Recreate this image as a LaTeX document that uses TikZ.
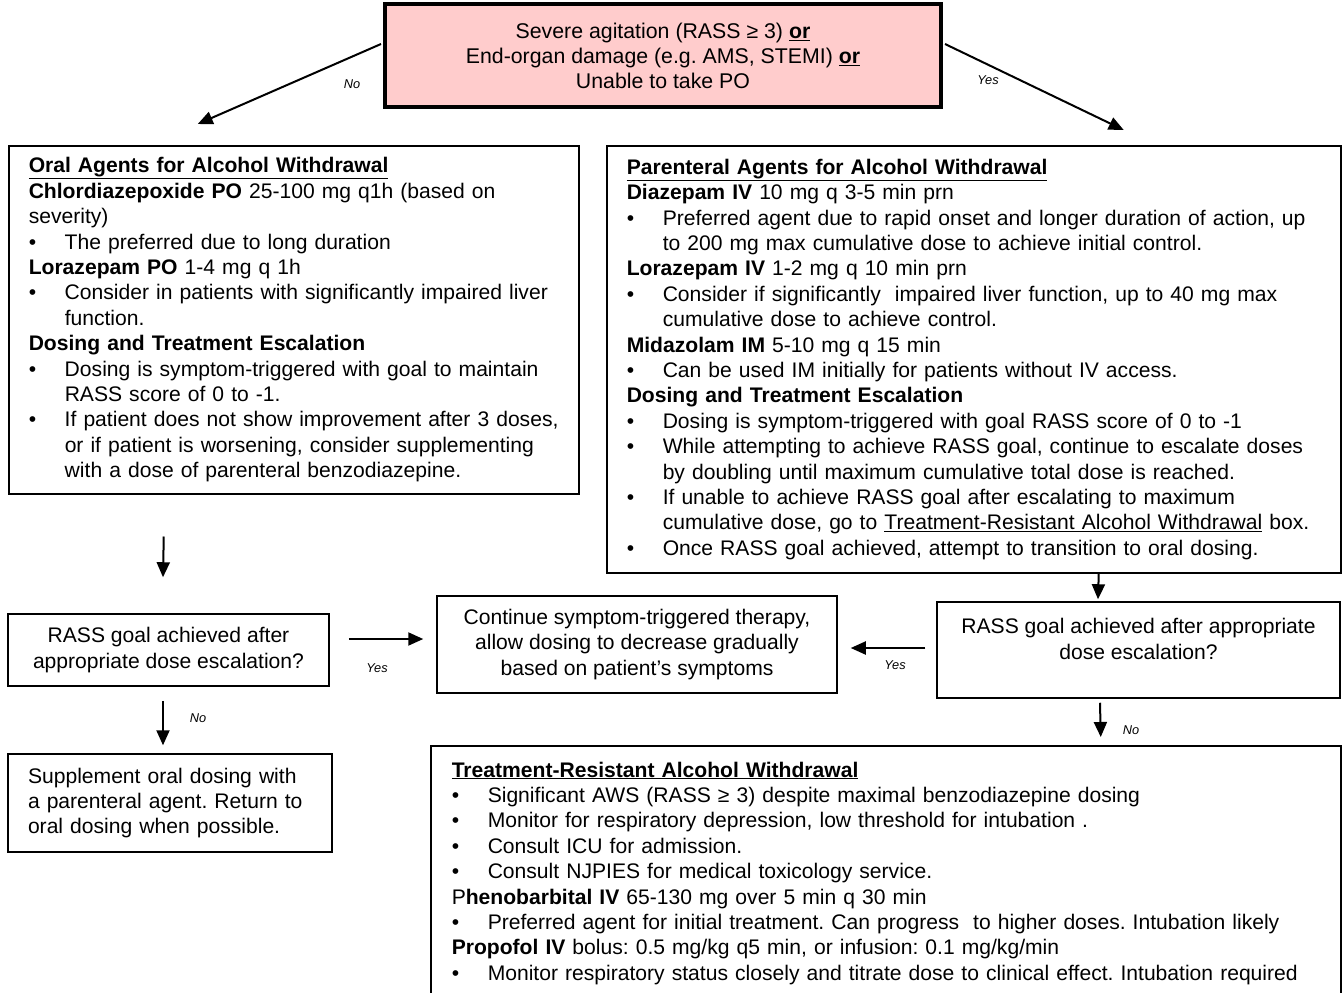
\documentclass[tikz,border=0pt]{standalone}
\usepackage{fontspec}
\setmainfont{Liberation Sans}
\usetikzlibrary{arrows.meta}

\definecolor{alarmpink}{HTML}{FFCCCC}
\newcommand{\blt}[1]{\mbox{\makebox[36pt][l]{\textbullet}#1}}
\newcommand{\bcont}[1]{\mbox{\hspace*{36pt}#1}}
\frenchspacing

\begin{document}
\begin{tikzpicture}[x=1pt,y=-1pt,
    panel/.style={draw=black, line width=1.5pt, align=left, anchor=north west,
        inner xsep=20pt, font=\fontsize{21.1pt}{25.4pt}\selectfont},
    askbox/.style={draw=black, line width=1.5pt, align=center,
        font=\fontsize{21.1pt}{25.4pt}\selectfont},
    arr/.style={line width=2pt, -{Triangle[length=15pt,width=13pt]}},
    lbl/.style={font=\fontsize{12.8pt}{15pt}\selectfont\itshape}]
            \useasboundingbox (0,0) rectangle (1342,993);
            \clip (0,0) rectangle (1342,993);

            % Place the decision box
            \node[draw=black, line width=4pt, fill=alarmpink, align=center, anchor=north,
                minimum width=556pt, minimum height=103pt,
                font=\fontsize{21.3pt}{25pt}\selectfont] (sev) at (663,2)
                {Severe agitation (RASS ≥ 3) \underline{\textbf{or}}\\
                 End-organ damage (e.g. AMS, STEMI) \underline{\textbf{or}}\\
                 Unable to take PO};

            % Place the agent boxes
            \node[panel, text width=530pt, minimum height=348pt] (oral) at (8,145)
                {\underline{\textbf{Oral Agents for Alcohol Withdrawal}}\\
                 \textbf{Chlordiazepoxide PO} 25-100 mg q1h (based on\\
                 severity)\\
                 \blt{The preferred due to long duration}\\
                 \textbf{Lorazepam PO} 1-4 mg q 1h\\
                 \blt{Consider in patients with significantly impaired liver}\\
                 \bcont{function.}\\
                 \textbf{Dosing and Treatment Escalation}\\
                 \blt{Dosing is symptom-triggered with goal to maintain}\\
                 \bcont{RASS score of 0 to -1.}\\
                 \blt{If patient does not show improvement after 3 doses,}\\
                 \bcont{or if patient is worsening, consider supplementing}\\
                 \bcont{with a dose of parenteral benzodiazepine.}};
            \node[panel, text width=694pt, minimum height=427pt] (paren) at (606,145)
                {\underline{\textbf{Parenteral Agents for Alcohol Withdrawal}}\\
                 \textbf{Diazepam IV} 10 mg q 3-5 min prn\\
                 \blt{Preferred agent due to rapid onset and longer duration of action, up}\\
                 \bcont{to 200 mg max cumulative dose to achieve initial control.}\\
                 \textbf{Lorazepam IV} 1-2 mg q 10 min prn\\
                 \blt{Consider if significantly\ \ impaired liver function, up to 40 mg max}\\
                 \bcont{cumulative dose to achieve control.}\\
                 \textbf{Midazolam IM} 5-10 mg q 15 min\\
                 \blt{Can be used IM initially for patients without IV access.}\\
                 \textbf{Dosing and Treatment Escalation}\\
                 \blt{Dosing is symptom-triggered with goal RASS score of 0 to -1}\\
                 \blt{While attempting to achieve RASS goal, continue to escalate doses}\\
                 \bcont{by doubling until maximum cumulative total dose is reached.}\\
                 \blt{If unable to achieve RASS goal after escalating to maximum}\\
                 \bcont{cumulative dose, go to \underline{Treatment-Resistant Alcohol Withdrawal} box.}\\
                 \blt{Once RASS goal achieved, attempt to transition to oral dosing.}};

            % Place the middle row
            \node[askbox, minimum width=321pt, minimum height=72pt] (askL) at (168.5,650)
                {RASS goal achieved after\\ appropriate dose escalation?};
            \node[askbox, minimum width=400pt, minimum height=97pt] (cont) at (637,644.5)
                {Continue symptom-triggered therapy,\\ allow dosing to decrease gradually\\
                 based on patient’s symptoms};
            \node[askbox, minimum width=403pt, minimum height=96pt] (askR) at (1138.5,650)
                {RASS goal achieved after appropriate\\ dose escalation?\par\vspace*{22pt}};

            % Place the bottom boxes
            \node[askbox, align=left, text width=284pt, inner xsep=20pt,
                minimum height=98pt] (supp) at (170,803)
                {Supplement oral dosing with\\ a parenteral agent. Return to\\
                 oral dosing when possible.};
            \node[panel, text width=868pt, inner xsep=21pt, inner ysep=16pt] (resist) at (430,745)
                {\underline{\textbf{Treatment-Resistant Alcohol Withdrawal}}\\
                 \blt{Significant AWS (RASS ≥ 3) despite maximal benzodiazepine dosing}\\
                 \blt{Monitor for respiratory depression, low threshold for intubation .}\\
                 \blt{Consult ICU for admission.}\\
                 \blt{Consult NJPIES for medical toxicology service.}\\
                 P\textbf{henobarbital IV} 65-130 mg over 5 min q 30 min\\
                 \blt{Preferred agent for initial treatment. Can progress\ \ to higher doses. Intubation likely}\\
                 \textbf{Propofol IV} bolus: 0.5 mg/kg q5 min, or infusion: 0.1 mg/kg/min\\
                 \blt{Monitor respiratory status closely and titrate dose to clinical effect. Intubation required}\\
                 \mbox{}};

            % The arrows!
            \draw[arr] ([shift={(-2pt,11.5pt)}]sev.west) -- ([shift={(-96pt,21pt)}]oral.north);
            \draw[arr] ([shift={(2pt,11.5pt)}]sev.east) -- ([shift={(150pt,15pt)}]paren.north);
            \draw[arr] ([shift={(-130pt,-42pt)}]oral.south) -- ([shift={(-5.5pt,36pt)}]askL.north);
            \draw[arr] ([xshift=125pt]paren.south) -- ([shift={(-40.5pt,2pt)}]askR.north);
            \draw[arr] ([shift={(19pt,11pt)}]askL.east) -- ([shift={(-13pt,5.5pt)}]cont.west);
            \draw[arr] ([shift={(-11pt,2pt)}]askR.west) -- ([shift={(13pt,-3.5pt)}]cont.east);
            \draw[arr] ([shift={(-5.5pt,-14pt)}]askL.south) -- ([shift={(-7pt,8pt)}]supp.north);
            \draw[arr] ([shift={(-38.5pt,-4pt)}]askR.south) -- ([shift={(215pt,8pt)}]resist.north);

            % The labels
            \node[lbl] (noTop) at (352,84) {No};
            \node[lbl] (yesTop) at (988,80) {Yes};
            \node[lbl] (yesL) at (377,668) {Yes};
            \node[lbl] (yesR) at (895,665) {Yes};
            \node[lbl] (noL) at (198,718) {No};
            \node[lbl] (noR) at (1131,730) {No};
\end{tikzpicture}
\end{document}
